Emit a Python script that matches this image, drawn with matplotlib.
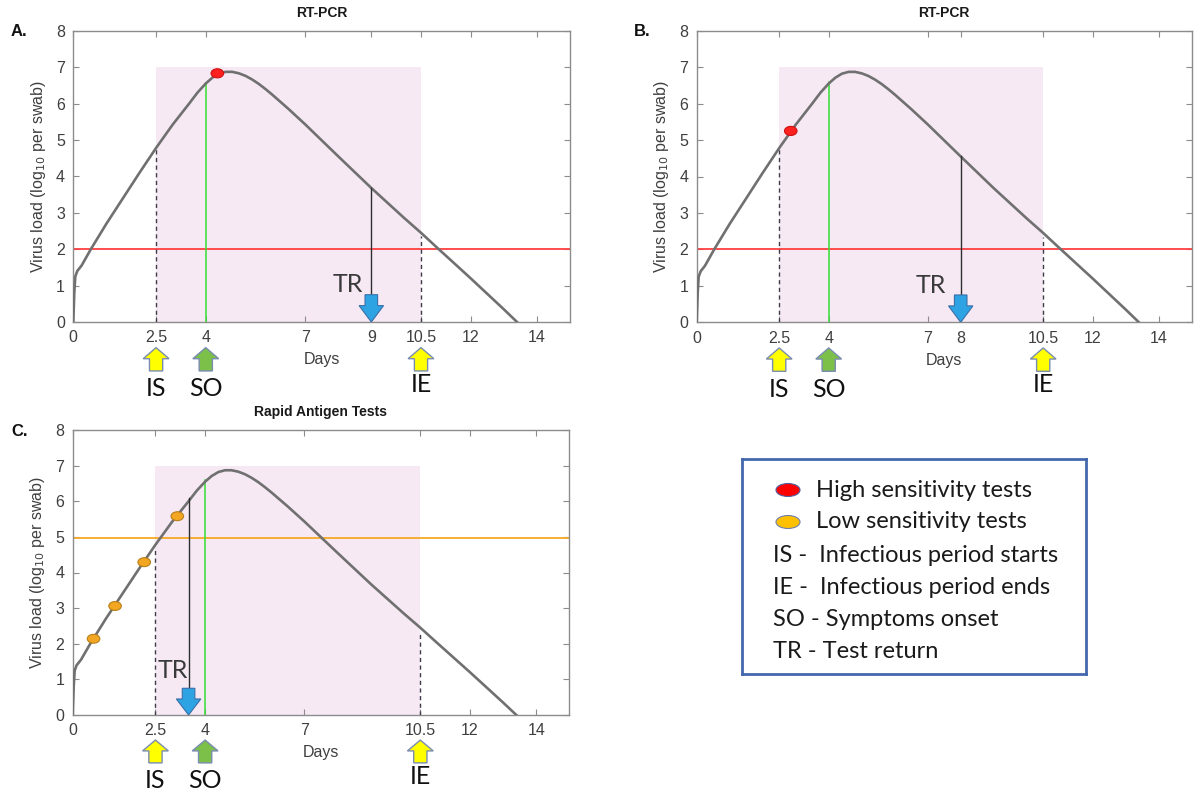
import matplotlib
matplotlib.use("Agg")
import matplotlib.pyplot as plt
from matplotlib.patches import FancyArrow, Ellipse, Rectangle
from matplotlib.transforms import blended_transform_factory

# ---------------- data ----------------
days = [0, 0.03, 0.06, 0.12, 0.25, 0.53, 1.0, 1.5, 2.0, 2.5, 3.0, 3.5, 3.75, 4.0, 4.2, 4.4,
        4.6, 4.8, 5.0, 5.2, 5.4, 5.6, 5.8, 6.0, 6.5, 7.0, 8.0, 9.0, 10.0, 10.5, 11.0, 12.0,
        13.0, 13.4]
load = [0, 0.8, 1.25, 1.4, 1.55, 2.0, 2.7, 3.4, 4.1, 4.78, 5.42, 6.0, 6.3, 6.55, 6.71, 6.82,
        6.87, 6.87, 6.83, 6.76, 6.66, 6.54, 6.40, 6.25, 5.85, 5.43, 4.55, 3.68, 2.85, 2.45,
        2.03, 1.2, 0.35, 0.0]

panel_titles = ["RT-PCR", "RT-PCR", "Rapid Antigen Tests"]
panel_letters = ["A.", "B.", "C."]
xticks_A = [0, 2.5, 4, 7, 9, 10.5, 12, 14]
xticks_B = [0, 2.5, 4, 7, 8, 10.5, 12, 14]
xticks_C = [0, 2.5, 4, 7, 10.5, 12, 14]
yticks = [0, 1, 2, 3, 4, 5, 6, 7, 8]

infectious_start = 2.5
infectious_end = 10.5
symptom_onset = 4
infectious_top = 7.0
ie_dash_top = 2.35

pcr_threshold = 2.0
antigen_threshold = 4.97

test_return = [9, 8, 3.5]           # TR day per panel
test_return_top = [3.68, 4.55, 6.1]  # top of TR line
so_line_top = [6.55, 6.6, 6.6]
is_dash_top = [4.75, 4.75, 4.7]

high_tests_A_day = [4.35]
high_tests_A_load = [6.83]
high_tests_B_day = [2.85]
high_tests_B_load = [5.25]
low_tests_C_day = [0.63, 1.28, 2.16, 3.16]
low_tests_C_load = [2.14, 3.06, 4.29, 5.58]

tr_text_pos = [(8.28, 1.03), (7.1, 1.0), (3.02, 1.26)]

legend_labels = ["High sensitivity tests", "Low sensitivity tests",
                 "IS -  Infectious period starts", "IE -  Infectious period ends",
                 "SO - Symptoms onset", "TR - Test return"]

# ---------------- style ----------------
CURVE = "#707070"
PINK = "#F6E9F4"
RED = "#FF4040"
ORANGE = "#F7A823"
GREEN_LINE = "#33E033"
DASH = "#3E3A4A"
BLUE_FILL = "#2EA3E3"
BLUE_EDGE = "#3A6FA8"
YELLOW = "#FFFF00"
GREEN_ARW = "#7CC04A"
ARW_EDGE = "#7A8CB0"
TXT_GRAY = "#3A3A3A"
SPINE = "#8C8C8C"
TICKLBL = "#3F3F3F"
ANN_FONT = ["Lato", "DejaVu Sans"]
AX_FONT = ["Liberation Sans", "DejaVu Sans"]

plt.rcParams["font.family"] = AX_FONT

W, H = 1202, 800
fig = plt.figure(figsize=(W / 100, H / 100), dpi=100)


def px_axes(l, t, r, b):
    return fig.add_axes([l / W, 1 - b / H, (r - l) / W, (b - t) / H])


axA = px_axes(73.3, 30.7, 570, 322)
axB = px_axes(696.7, 30.7, 1191.7, 322.3)
axC = px_axes(72.7, 430, 569.3, 715)

panels = [(axA, xticks_A), (axB, xticks_B), (axC, xticks_C)]


def up_arrow(ax, x, fc):
    tr = blended_transform_factory(ax.transData, ax.transAxes)
    ar = FancyArrow(x, -0.168, 0, 0.08, width=0.4, head_width=0.78, head_length=0.038,
                    length_includes_head=True, fc=fc, ec=ARW_EDGE, lw=1.0,
                    transform=tr, clip_on=False, zorder=5)
    ax.add_patch(ar)


for i, (ax, xt) in enumerate(panels):
    ax.set_xlim(0, 15)
    ax.set_ylim(0, 8)
    ax.add_patch(Rectangle((infectious_start, 0), infectious_end - infectious_start,
                           infectious_top, fc=PINK, ec="none", zorder=0))
    thr = antigen_threshold if i == 2 else pcr_threshold
    thr_col = ORANGE if i == 2 else RED
    ax.axhline(thr, color=thr_col, lw=1.3, zorder=2)
    # dashed IS / IE lines
    ax.plot([infectious_start, infectious_start], [0, is_dash_top[i]], ls=(0, (3, 2.5)),
            color=DASH, lw=1.0, zorder=3)
    ax.plot([infectious_end, infectious_end], [0, ie_dash_top], ls=(0, (3, 2.5)),
            color=DASH, lw=1.0, zorder=3)
    # symptom onset
    ax.plot([symptom_onset, symptom_onset], [0, so_line_top[i]], color=GREEN_LINE, lw=1.1, zorder=3)
    # curve
    ax.plot(days, load, color=CURVE, lw=1.9, zorder=4, solid_joinstyle="round")
    # test return line & arrow
    trd = test_return[i]
    ax.plot([trd, trd], [0.6, test_return_top[i]], color="#2E2E2E", lw=1.0, zorder=4)
    ax.add_patch(FancyArrow(trd, 0.75, 0, -0.75, width=0.38, head_width=0.74, head_length=0.45,
                            length_includes_head=True, fc=BLUE_FILL, ec=BLUE_EDGE, lw=0.8,
                            zorder=6))
    ax.text(tr_text_pos[i][0], tr_text_pos[i][1], "TR", family=ANN_FONT, fontsize=18,
            color=TXT_GRAY, ha="center", va="center", zorder=7)

    # axes styling
    ax.set_xticks(xt)
    ax.set_xticklabels([("%g" % v) for v in xt])
    ax.set_yticks(yticks)
    ax.tick_params(direction="in", top=True, right=True, length=4, width=0.8,
                   colors=SPINE, labelcolor=TICKLBL, labelsize=11.5, pad=6)
    for s in ax.spines.values():
        s.set_color(SPINE)
        s.set_linewidth(1.0)
    ax.set_xlabel("Days", fontsize=11.5, color=TICKLBL, labelpad=5)
    ax.set_ylabel("Virus load (log$_{10}$ per swab)", fontsize=11.5, color=TICKLBL, labelpad=6)
    ax.set_title(panel_titles[i], fontsize=10, fontweight="bold", color="#1A1A1A", pad=10)

    # arrows under axis
    up_arrow(ax, infectious_start, YELLOW)
    up_arrow(ax, symptom_onset, GREEN_ARW)
    up_arrow(ax, infectious_end, YELLOW)
    tr = blended_transform_factory(ax.transData, ax.transAxes)
    ax.text(infectious_start, -0.23, "IS", transform=tr, family=ANN_FONT, fontsize=18,
            color="#111111", ha="center", va="center")
    ax.text(symptom_onset, -0.23, "SO", transform=tr, family=ANN_FONT, fontsize=18,
            color="#111111", ha="center", va="center")
    ax.text(infectious_end, -0.215, "IE", transform=tr, family=ANN_FONT, fontsize=18,
            color="#111111", ha="center", va="center")

# test dots
def dots(ax, xs, ys, fc, ec):
    for x, y in zip(xs, ys):
        ax.add_patch(Ellipse((x, y), 0.38, 0.25, fc=fc, ec=ec, lw=0.8, zorder=8))

dots(axA, high_tests_A_day, high_tests_A_load, "#FF2020", "#D01010")
dots(axB, high_tests_B_day, high_tests_B_load, "#FF2020", "#D01010")
dots(axC, low_tests_C_day, low_tests_C_load, "#F2A622", "#B8801A")

# panel letters
for (ax, _), letter, ypx in zip(panels, panel_letters, [32, 32, 432]):
    xpx = 11 if letter != "B." else 634
    fig.text(xpx / W, 1 - ypx / H, letter, fontsize=12, fontweight="bold", ha="left",
             va="center", color="#111111")

# legend box
lx0, ly0, lx1, ly1 = 741.7, 459.3, 1086, 674
lg = px_axes(lx0, ly0, lx1, ly1)
lg.set_xlim(0, lx1 - lx0)
lg.set_ylim(ly1 - ly0, 0)
lg.set_xticks([])
lg.set_yticks([])
for s in lg.spines.values():
    s.set_color("#4468AE")
    s.set_linewidth(2.0)
rows = [490, 522, 555, 587, 620, 652]
lg.add_patch(Ellipse((788 - lx0, rows[0] - ly0), 24, 13, fc="#FF0000", ec="#5060A0", lw=0.8))
lg.add_patch(Ellipse((788 - lx0, rows[1] - ly0), 24, 13, fc="#FFC000", ec="#7080A8", lw=0.8))
for k, (lab, ry) in enumerate(zip(legend_labels, rows)):
    x0 = (816 if k < 2 else 773) - lx0
    lg.text(x0, ry - ly0, lab, family=ANN_FONT, fontsize=17, color="#1A1A1A",
            ha="left", va="center")

fig.savefig("out.png", dpi=100)
